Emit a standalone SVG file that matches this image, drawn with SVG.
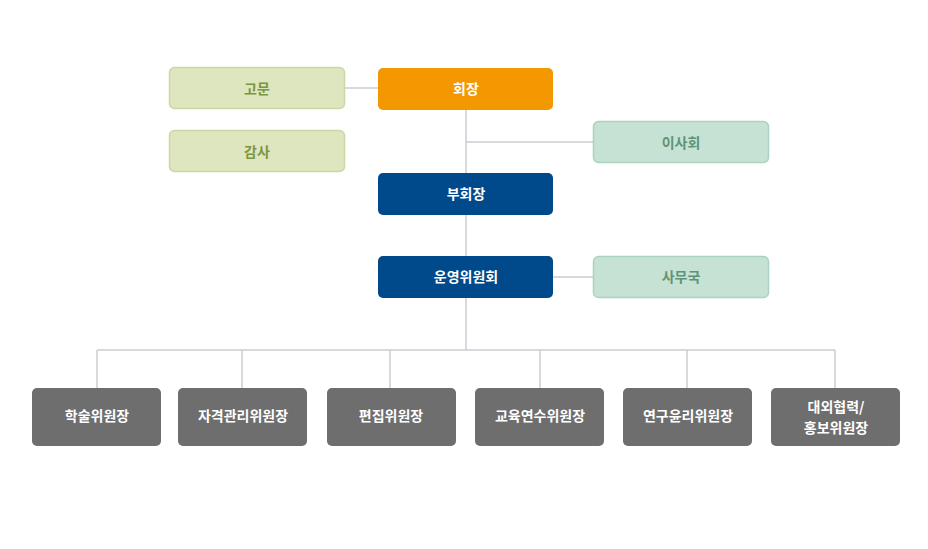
<svg xmlns="http://www.w3.org/2000/svg" width="928" height="549" viewBox="0 0 928 549">
<style>
text{font-family:"Noto Sans CJK KR","Noto Sans",sans-serif;font-size:14px;font-weight:bold;text-anchor:middle;dominant-baseline:central}
.g rect{fill:#dde6bf;stroke:#c9d8a4;stroke-width:1.5}
.g text{fill:#7b9640}
.m rect{fill:#c6e2d4;stroke:#abd3bf;stroke-width:1.5}
.m text{fill:#5e9378}
.o rect{fill:#f39800}
.n rect{fill:#00498a}
.d rect{fill:#6e6e6e}
.o text,.n text,.d text{fill:#fff}
.c line{stroke:#c8ccd2;stroke-width:1.5}
</style>
<rect width="928" height="549" fill="#fff"/>
<g class="c">
<line x1="466" y1="110" x2="466" y2="350"/>
<line x1="345" y1="88" x2="378" y2="88"/>
<line x1="466" y1="142" x2="593" y2="142"/>
<line x1="553" y1="277" x2="593" y2="277"/>
<line x1="97" y1="350" x2="835" y2="350"/>
<line x1="97" y1="350" x2="97" y2="388"/>
<line x1="242" y1="350" x2="242" y2="388"/>
<line x1="390" y1="350" x2="390" y2="388"/>
<line x1="540" y1="350" x2="540" y2="388"/>
<line x1="687" y1="350" x2="687" y2="388"/>
<line x1="835" y1="350" x2="835" y2="388"/>
</g>
<g id="gomun" class="g"><rect x="169.5" y="67.5" width="175" height="41" rx="5"/><text x="257" y="87.5">고문</text></g>
<g id="gamsa" class="g"><rect x="169.5" y="130.5" width="175" height="41" rx="5"/><text x="257" y="150.5">감사</text></g>
<g id="hoejang" class="o"><rect x="378" y="68" width="175" height="42" rx="5"/><text x="466" y="88">회장</text></g>
<g id="isahoe" class="m"><rect x="593.5" y="121.5" width="175" height="41" rx="5"/><text x="681" y="141.5">이사회</text></g>
<g id="buhoejang" class="n"><rect x="378" y="173" width="175" height="42" rx="5"/><text x="466" y="193">부회장</text></g>
<g id="unyeong" class="n"><rect x="378" y="256" width="175" height="42" rx="5"/><text x="466" y="276">운영위원회</text></g>
<g id="samuguk" class="m"><rect x="593.5" y="256.5" width="175" height="41" rx="5"/><text x="681" y="276">사무국</text></g>
<g id="haksul" class="d"><rect x="32" y="388" width="129" height="58" rx="5"/><text x="97" y="415">학술위원장</text></g>
<g id="jagyeok" class="d"><rect x="178" y="388" width="129" height="58" rx="5"/><text x="243" y="415">자격관리위원장</text></g>
<g id="pyeonjip" class="d"><rect x="327" y="388" width="129" height="58" rx="5"/><text x="391" y="415">편집위원장</text></g>
<g id="gyoyuk" class="d"><rect x="475" y="388" width="129" height="58" rx="5"/><text x="540" y="415">교육연수위원장</text></g>
<g id="yeongu" class="d"><rect x="623" y="388" width="129" height="58" rx="5"/><text x="688" y="415">연구윤리위원장</text></g>
<g id="daeoe" class="d"><rect x="771" y="388" width="129" height="58" rx="5"/><text x="836" y="406">대외협력/</text><text x="836" y="427">홍보위원장</text></g>
</svg>
